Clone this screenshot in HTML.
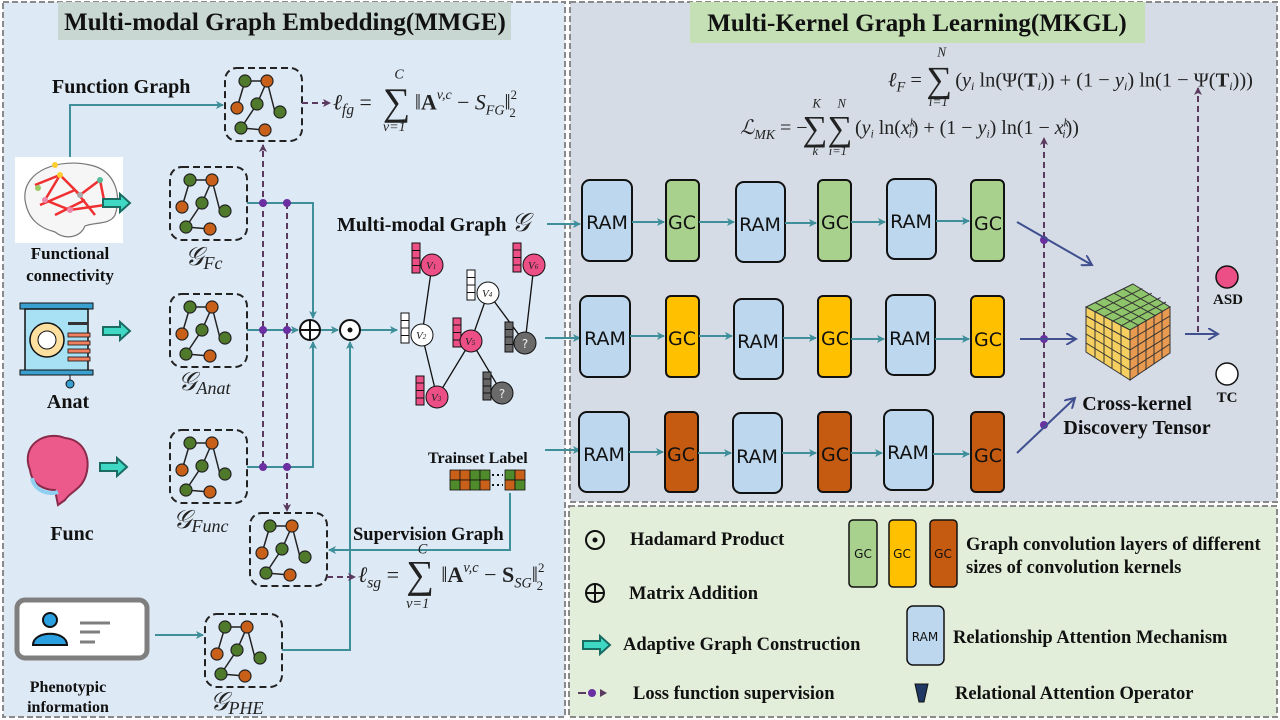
<!DOCTYPE html>
<html><head><meta charset="utf-8"><style>
body{margin:0;width:1280px;height:720px;overflow:hidden;background:#fff}
svg{display:block}
.b{font-family:"Liberation Serif",serif;font-weight:bold;fill:#111}
.m{font-family:"Liberation Serif",serif;fill:#222}
.s{font-family:"DejaVu Sans","Liberation Sans",sans-serif;fill:#111}
</style></head><body>
<svg width="1280" height="720" viewBox="0 0 1280 720" xmlns="http://www.w3.org/2000/svg">
<defs>
<marker id="at" markerWidth="8" markerHeight="8" refX="7" refY="4" orient="auto" markerUnits="userSpaceOnUse"><path d="M0,0 L8,4 L0,8 L2,4z" fill="#3f8f9a"/></marker>
<marker id="ap" markerWidth="8" markerHeight="8" refX="7" refY="4" orient="auto" markerUnits="userSpaceOnUse"><path d="M0,0 L8,4 L0,8 L2,4z" fill="#5a3a5e"/></marker>
<marker id="ab" markerWidth="12" markerHeight="12" refX="10" refY="6" orient="auto" markerUnits="userSpaceOnUse"><path d="M0,0 L10,6 L0,12" fill="none" stroke="#3f4f8f" stroke-width="2"/></marker>
<g id="gr">
<rect x="0" y="0" width="77" height="73" rx="12" fill="none" stroke="#222" stroke-width="2" stroke-dasharray="7,4"/>
<g stroke="#222" stroke-width="1.5">
<line x1="20" y1="13" x2="42" y2="13"/><line x1="42" y1="13" x2="50" y2="44"/><line x1="20" y1="13" x2="12" y2="40"/><line x1="42" y1="13" x2="32" y2="36"/><line x1="32" y1="36" x2="16" y2="60"/><line x1="16" y1="60" x2="40" y2="62"/>
</g>
<g stroke="#222" stroke-width="1.2">
<circle cx="20" cy="13" r="6" fill="#4f7a2b"/><circle cx="42" cy="13" r="6" fill="#c8601a"/><circle cx="12" cy="40" r="6" fill="#c8601a"/><circle cx="32" cy="36" r="6" fill="#4f7a2b"/><circle cx="55" cy="44" r="6" fill="#4f7a2b"/><circle cx="16" cy="60" r="6" fill="#4f7a2b"/><circle cx="40" cy="62" r="6" fill="#c8601a"/>
</g>
</g>
<g id="tarrow"><path d="M0,-4 H17 V-9 L27,0 L17,9 V4 H0z" fill="#3fd8c4" stroke="#1a6b62" stroke-width="2"/></g>
</defs>

<!-- panels -->
<rect x="3" y="2" width="562" height="715" fill="#dde9f5" stroke="#8a8a8a" stroke-width="2" stroke-dasharray="6,3"/>
<rect x="570" y="2" width="707" height="500" fill="#d5dce6" stroke="#8a8a8a" stroke-width="2" stroke-dasharray="6,3"/>
<rect x="569" y="506" width="708" height="211" fill="#e2eeda" stroke="#8a8a8a" stroke-width="2" stroke-dasharray="6,3"/>

<rect x="58" y="2" width="453" height="38" fill="#c9d7d2"/>
<text class="b" x="285" y="30" font-size="25" text-anchor="middle">Multi-modal Graph Embedding(MMGE)</text>
<rect x="690" y="2" width="455" height="41" fill="#c5e0b5"/>
<text class="b" x="917" y="31" font-size="25" text-anchor="middle">Multi-Kernel Graph Learning(MKGL)</text>

<!-- left images -->
<rect x="15" y="157" width="108" height="86" fill="#fff"/>
<path d="M25,200 C22,170 60,158 90,165 C115,170 122,195 115,215 C110,225 95,222 85,226 C80,238 65,240 55,232 C40,228 28,220 25,200z" fill="#f6f6f6" stroke="#777" stroke-width="1.2"/>
<g stroke="#f03030" stroke-width="2.5" fill="none"><path d="M35,185 L60,175 L80,195 L100,180 L105,205 L70,210 L45,200 L60,175 M40,205 L75,190 L95,215 M55,215 L85,200"/></g>
<g><circle cx="38" cy="188" r="3" fill="#9c6"/><circle cx="60" cy="175" r="3" fill="#fc3"/><circle cx="80" cy="195" r="3" fill="#aaa"/><circle cx="100" cy="180" r="3" fill="#5b9"/><circle cx="105" cy="205" r="3" fill="#89c"/><circle cx="70" cy="210" r="3" fill="#e8a"/><circle cx="45" cy="200" r="3" fill="#e8a"/><circle cx="55" cy="165" r="3" fill="#fc3"/></g>
<text class="b" x="70" y="259" font-size="17" text-anchor="middle">Functional</text>
<text class="b" x="70" y="281" font-size="17" text-anchor="middle">connectivity</text>

<rect x="20" y="303" width="73" height="6" fill="#3aa0d0" stroke="#111"/>
<rect x="25" y="309" width="63" height="62" fill="#a8e0f4" stroke="#111" stroke-width="1.5"/>
<rect x="20" y="370" width="73" height="5" fill="#3aa0d0" stroke="#111"/>
<circle cx="47" cy="340" r="17" fill="#fde0a0" stroke="#111" stroke-width="1.5"/><circle cx="47" cy="340" r="9" fill="#fff" stroke="#111"/>
<g fill="#f08060" stroke="#111" stroke-width="0.8"><rect x="68" y="333" width="22" height="4"/><rect x="68" y="341" width="22" height="4"/><rect x="68" y="349" width="22" height="4"/><rect x="68" y="357" width="22" height="4"/></g>
<rect x="68" y="322" width="20" height="3" fill="#333"/>
<line x1="70" y1="375" x2="70" y2="381" stroke="#111"/><circle cx="70" cy="384" r="4" fill="#3aa0d0" stroke="#111"/>
<text class="b" x="68" y="408" font-size="20" text-anchor="middle">Anat</text>

<path d="M30,470 C20,445 45,430 65,438 C85,440 92,460 85,478 C80,490 70,492 65,500 L58,505 L55,490 C45,490 32,485 30,470z" fill="#ec5a8c" stroke="#8a2a4a" stroke-width="2"/>
<path d="M32,478 C35,492 50,495 58,492" fill="none" stroke="#8fd0f0" stroke-width="4"/>
<text class="b" x="72" y="540" font-size="20" text-anchor="middle">Func</text>

<rect x="17" y="600" width="130" height="58" rx="8" fill="#fff" stroke="#7f7f7f" stroke-width="5"/>
<circle cx="50" cy="620" r="7" fill="#2aa0e0" stroke="#111" stroke-width="2"/><path d="M33,645 C33,630 67,630 67,645z" fill="#2aa0e0" stroke="#111" stroke-width="2"/>
<g stroke="#7f7f7f" stroke-width="3"><line x1="80" y1="623" x2="110" y2="623"/><line x1="80" y1="632" x2="100" y2="632"/><line x1="80" y1="642" x2="95" y2="642"/></g>
<text class="b" x="68" y="692" font-size="16" text-anchor="middle">Phenotypic</text>
<text class="b" x="68" y="712" font-size="16" text-anchor="middle">information</text>

<use href="#tarrow" x="103" y="203"/><use href="#tarrow" x="103" y="331"/><use href="#tarrow" x="100" y="467"/>

<!-- graphs -->
<use href="#gr" x="225" y="68"/>
<use href="#gr" x="170" y="167"/>
<use href="#gr" x="170" y="294"/>
<use href="#gr" x="170" y="430"/>
<use href="#gr" x="250" y="513"/>
<use href="#gr" x="205" y="614"/>
<text class="b" x="52" y="93" font-size="20">Function Graph</text>
<text class="m" x="185" y="265" font-size="26" font-style="italic">𝒢<tspan font-size="18" dy="4">Fc</tspan></text>
<text class="m" x="178" y="390" font-size="26" font-style="italic">𝒢<tspan font-size="18" dy="4">Anat</tspan></text>
<text class="m" x="173" y="528" font-size="26" font-style="italic">𝒢<tspan font-size="18" dy="4">Func</tspan></text>
<text class="m" x="210" y="710" font-size="26" font-style="italic">𝒢<tspan font-size="18" dy="4">PHE</tspan></text>

<!-- teal connectors -->
<g fill="none" stroke="#3f8f9a" stroke-width="2">
<path d="M70,157 V105 H223" marker-end="url(#at)"/>
<path d="M247,203 H313 V318" marker-end="url(#at)"/>
<path d="M247,330 H298" marker-end="url(#at)"/>
<path d="M247,467 H313 V342" marker-end="url(#at)"/>
<path d="M320,330 H338" marker-end="url(#at)"/>
<path d="M360,330 H397" marker-end="url(#at)"/>
<path d="M282,650 H350 V342" marker-end="url(#at)"/>
<path d="M155,635 H203" marker-end="url(#at)"/>
<path d="M510,493 V550 H329" marker-end="url(#at)"/>
<path d="M547,224 H580" marker-end="url(#at)"/>
<path d="M545,338 H580" marker-end="url(#at)"/>
<path d="M545,450 H580" marker-end="url(#at)"/>
</g>
<circle cx="310" cy="330" r="10" fill="#fff" stroke="#111" stroke-width="2"/><path d="M300,330 H320 M310,320 V340" stroke="#111" stroke-width="2"/>
<circle cx="350" cy="330" r="10" fill="#fff" stroke="#111" stroke-width="2"/><circle cx="350" cy="330" r="2.5" fill="#111"/>

<!-- purple dashed -->
<g fill="none" stroke="#5a3a5e" stroke-width="2" stroke-dasharray="6,4">
<path d="M263,467 V145" marker-end="url(#ap)"/>
<path d="M287,203 V511" marker-end="url(#ap)"/>
<path d="M302,103 H330" marker-end="url(#ap)"/>
<path d="M327,577 H355" marker-end="url(#ap)"/>
<path d="M1044,428 V138" marker-end="url(#ap)"/>
<path d="M1198,332 V88" marker-end="url(#ap)"/>
</g>
<g fill="#6a2fa0"><circle cx="263" cy="203" r="4"/><circle cx="287" cy="203" r="4"/><circle cx="263" cy="330" r="4"/><circle cx="287" cy="330" r="4"/><circle cx="263" cy="467" r="4"/><circle cx="287" cy="467" r="4"/><circle cx="1044" cy="240" r="4"/><circle cx="1044" cy="339" r="4"/><circle cx="1044" cy="425" r="4"/></g>

<!-- formulas left -->
<g transform="translate(333,103) scale(1.28) translate(-333,-103)">
<text class="m" x="333" y="108" font-size="17" font-style="italic">ℓ<tspan font-size="12" dy="4">fg</tspan><tspan dy="-4" font-style="normal"> = </tspan></text>
<text class="m" x="372" y="112" font-size="30">∑</text>
<text class="m" x="381" y="84" font-size="11" font-style="italic">C</text>
<text class="m" x="372" y="125" font-size="11" font-style="italic">v=1</text>
<text class="m" x="397" y="108" font-size="17">‖<tspan font-weight="bold">A</tspan><tspan font-size="11" dy="-8" font-style="italic">v,c</tspan><tspan dy="8"> − </tspan><tspan font-style="italic">S</tspan><tspan font-size="11" dy="4" font-style="italic">FG</tspan><tspan dy="-4">‖</tspan><tspan font-size="10" dy="-8">2</tspan><tspan font-size="10" dx="-6" dy="14">2</tspan></text>
</g>
<g transform="translate(358,577) scale(1.3) translate(-341,-578)">
<text class="m" x="341" y="582" font-size="17" font-style="italic">ℓ<tspan font-size="12" dy="4">sg</tspan><tspan dy="-4" font-style="normal"> = </tspan></text>
<text class="m" x="378" y="586" font-size="30">∑</text>
<text class="m" x="387" y="560" font-size="11" font-style="italic">C</text>
<text class="m" x="378" y="602" font-size="11" font-style="italic">v=1</text>
<text class="m" x="405" y="582" font-size="17">‖<tspan font-weight="bold">A</tspan><tspan font-size="11" dy="-8" font-style="italic">v,c</tspan><tspan dy="8"> − </tspan><tspan font-weight="bold">S</tspan><tspan font-size="11" dy="4" font-style="italic">SG</tspan><tspan dy="-4">‖</tspan><tspan font-size="10" dy="-8">2</tspan><tspan font-size="10" dx="-6" dy="14">2</tspan></text>
</g>

<text class="b" x="337" y="231" font-size="20">Multi-modal Graph <tspan class="m" font-size="26" font-style="italic" font-weight="normal">𝒢</tspan></text>

<!-- multi-modal nodes -->
<g stroke="#111" stroke-width="1.3">
<line x1="432" y1="265" x2="422" y2="335"/><line x1="422" y1="335" x2="437" y2="397"/><line x1="437" y1="397" x2="471" y2="341"/><line x1="471" y1="341" x2="488" y2="293"/><line x1="488" y1="293" x2="525" y2="343"/><line x1="534" y1="265" x2="525" y2="343"/><line x1="471" y1="341" x2="502" y2="393"/>
</g>
<g stroke="#111" stroke-width="1">
<g fill="#ec4f85"><rect x="412" y="243" width="8" height="30"/><rect x="416" y="376" width="8" height="29"/><rect x="453" y="318" width="8" height="29"/><rect x="513" y="243" width="8" height="29"/></g>
<g fill="#fff"><rect x="401" y="313" width="8" height="30"/><rect x="467" y="270" width="8" height="30"/></g>
<g fill="#666"><rect x="505" y="322" width="8" height="30"/><rect x="483" y="372" width="8" height="28"/></g>
<path d="M412,250.5H420M412,258H420M412,265.5H420 M416,383H424M416,390.5H424M416,398H424 M453,325H461M453,332.5H461M453,340H461 M513,250H521M513,257.5H521M513,265H521 M401,320.5H409M401,328H409M401,335.5H409 M467,277.5H475M467,285H475M467,292.5H475 M505,329.5H513M505,337H513M505,344.5H513 M483,379H491M483,386H491M483,393H491"/>
<circle cx="432" cy="265" r="11" fill="#ec4f85"/><circle cx="422" cy="335" r="11" fill="#fff"/><circle cx="437" cy="397" r="11" fill="#ec4f85"/><circle cx="488" cy="293" r="11" fill="#fff"/><circle cx="471" cy="341" r="11" fill="#ec4f85"/><circle cx="534" cy="265" r="11" fill="#ec4f85"/><circle cx="525" cy="343" r="11" fill="#6a6a6a"/><circle cx="502" cy="393" r="11" fill="#6a6a6a"/>
</g>
<g class="m" font-size="11" font-style="italic" fill="#333"><text x="426" y="269">V<tspan font-size="7">1</tspan></text><text x="416" y="339">V<tspan font-size="7">2</tspan></text><text x="431" y="401">V<tspan font-size="7">3</tspan></text><text x="482" y="297">V<tspan font-size="7">4</tspan></text><text x="465" y="345">V<tspan font-size="7">5</tspan></text><text x="528" y="269">V<tspan font-size="7">6</tspan></text></g>
<text class="s" x="525" y="348" font-size="12" text-anchor="middle" style="fill:#eee">?</text>
<text class="s" x="502" y="398" font-size="12" text-anchor="middle" style="fill:#eee">?</text>

<!-- trainset -->
<text class="b" x="428" y="463" font-size="16">Trainset Label</text>
<g stroke="#111" stroke-width="0.8">
<rect x="450" y="470" width="10" height="10" fill="#c8601a"/><rect x="460" y="470" width="10" height="10" fill="#c8601a"/><rect x="470" y="470" width="10" height="10" fill="#4f8a2b"/><rect x="480" y="470" width="10" height="10" fill="#4f8a2b"/>
<rect x="450" y="480" width="10" height="10" fill="#4f8a2b"/><rect x="460" y="480" width="10" height="10" fill="#c8601a"/><rect x="470" y="480" width="10" height="10" fill="#4f8a2b"/><rect x="480" y="480" width="10" height="10" fill="#c8601a"/>
<rect x="505" y="470" width="10" height="10" fill="#4f8a2b"/><rect x="515" y="470" width="10" height="10" fill="#c8601a"/><rect x="505" y="480" width="10" height="10" fill="#c8601a"/><rect x="515" y="480" width="10" height="10" fill="#4f8a2b"/>
</g>
<path d="M492,475H503M492,485H503" stroke="#111" stroke-width="2" stroke-dasharray="2,3"/>
<text class="b" x="353" y="540" font-size="18.5">Supervision Graph</text>

<!-- pipelines -->
<g stroke="#111" stroke-width="2">
<g fill="#bdd7ee">
<rect x="582" y="180" width="50" height="81" rx="8"/><rect x="736" y="182" width="49" height="80" rx="8"/><rect x="887" y="179" width="49" height="80" rx="8"/>
<rect x="580" y="296" width="50" height="81" rx="8"/><rect x="734" y="299" width="49" height="80" rx="8"/><rect x="886" y="295" width="49" height="80" rx="8"/>
<rect x="579" y="412" width="50" height="80" rx="8"/><rect x="733" y="413" width="49" height="80" rx="8"/><rect x="884" y="410" width="49" height="80" rx="8"/>
</g>
<g fill="#a9d18e"><rect x="666" y="180" width="33" height="81" rx="5"/><rect x="818" y="180" width="33" height="81" rx="5"/><rect x="971" y="180" width="33" height="81" rx="5"/></g>
<g fill="#ffc000"><rect x="666" y="296" width="33" height="81" rx="5"/><rect x="818" y="296" width="33" height="81" rx="5"/><rect x="971" y="296" width="33" height="81" rx="5"/></g>
<g fill="#c55a11"><rect x="665" y="412" width="33" height="80" rx="5"/><rect x="818" y="412" width="33" height="80" rx="5"/><rect x="971" y="412" width="33" height="80" rx="5"/></g>
</g>
<g class="s" font-size="19" text-anchor="middle">
<text x="607" y="229">RAM</text><text x="682" y="229">GC</text><text x="760" y="231">RAM</text><text x="835" y="229">GC</text><text x="911" y="228">RAM</text><text x="988" y="230">GC</text>
<text x="605" y="345">RAM</text><text x="682" y="345">GC</text><text x="758" y="348">RAM</text><text x="835" y="345">GC</text><text x="910" y="345">RAM</text><text x="988" y="346">GC</text>
<text x="604" y="461">RAM</text><text x="681" y="461">GC</text><text x="757" y="463">RAM</text><text x="835" y="461">GC</text><text x="908" y="459">RAM</text><text x="988" y="462">GC</text>
</g>
<g fill="none" stroke="#3f8f9a" stroke-width="2">
<path d="M632,222H664" marker-end="url(#at)"/><path d="M699,222H734" marker-end="url(#at)"/><path d="M785,223H816" marker-end="url(#at)"/><path d="M851,222H885" marker-end="url(#at)"/><path d="M936,221H969" marker-end="url(#at)"/>
<path d="M630,336H664" marker-end="url(#at)"/><path d="M699,336H732" marker-end="url(#at)"/><path d="M783,338H816" marker-end="url(#at)"/><path d="M851,339H884" marker-end="url(#at)"/><path d="M935,339H969" marker-end="url(#at)"/>
<path d="M629,452H663" marker-end="url(#at)"/><path d="M698,453H731" marker-end="url(#at)"/><path d="M782,453H816" marker-end="url(#at)"/><path d="M851,453H882" marker-end="url(#at)"/><path d="M933,454H969" marker-end="url(#at)"/>
</g>
<g fill="none" stroke="#3f4f8f" stroke-width="2">
<path d="M1017,222 L1092,265" marker-end="url(#ab)"/><path d="M1020,339 H1076" marker-end="url(#ab)"/><path d="M1017,453 L1075,398" marker-end="url(#ab)"/><path d="M1185,334 H1218" marker-end="url(#ab)"/>
</g>

<!-- cube -->
<path d="M1133,284 L1170,307 L1130,330 L1086,307z" fill="#8fc56a" stroke="#333"/>
<path d="M1086,307 L1130,330 L1130,380 L1086,352z" fill="#f5d060" stroke="#333"/>
<path d="M1130,330 L1170,307 L1170,353 L1130,380z" fill="#e89a50" stroke="#333"/>
<g stroke="#333" stroke-width="1" fill="none">
<path d="M1095,302.4L1139,325.6 M1104,297.8L1147,320.8 M1114,293.2L1156,316 M1123,288.6L1163,311.6 M1095.4,311.6L1142.4,288.6 M1104.8,316.2L1151.8,293.2 M1113.4,320.8L1160.6,297.6 M1122,325.4L1166,302"/>
<path d="M1095,311.6V357 M1104,316.2V362.6 M1112,320.8V368.4 M1121,325.4V374 M1086,316L1130,340 M1086,325L1130,350 M1086,334L1130,360 M1086,343L1130,370"/>
<path d="M1138,325.4V375 M1146,320.8V370 M1154,316.2V364 M1162,311.6V358 M1130,340L1170,316 M1130,350L1170,325 M1130,360L1170,335 M1130,370L1170,344"/>
</g>
<text class="b" x="1137" y="410" font-size="20" text-anchor="middle">Cross-kernel</text>
<text class="b" x="1137" y="434" font-size="20" text-anchor="middle">Discovery Tensor</text>
<circle cx="1227" cy="277" r="11" fill="#ec4f85" stroke="#111" stroke-width="1.5"/>
<text class="b" x="1228" y="304" font-size="15" text-anchor="middle">ASD</text>
<circle cx="1227" cy="374" r="11" fill="#fff" stroke="#111" stroke-width="1.5"/>
<text class="b" x="1227" y="402" font-size="15" text-anchor="middle">TC</text>

<!-- right formulas -->
<g transform="translate(888,83) scale(1.2) translate(-875,-85)">
<text class="m" x="875" y="88" font-size="17" font-style="italic">ℓ<tspan font-size="12" dy="4">F</tspan><tspan dy="-4" font-style="normal"> = </tspan></text>
<text class="m" x="907" y="92" font-size="30">∑</text>
<text class="m" x="916" y="63" font-size="11" font-style="italic">N</text>
<text class="m" x="909" y="104" font-size="11" font-style="italic">i=1</text>
<text class="m" x="931" y="88" font-size="17">(<tspan font-style="italic">y</tspan><tspan font-size="10" dy="3" font-style="italic">i</tspan><tspan dy="-3"> ln(Ψ(</tspan><tspan font-weight="bold">T</tspan><tspan font-size="10" dy="3" font-style="italic">i</tspan><tspan dy="-3">)) + (1 − </tspan><tspan font-style="italic">y</tspan><tspan font-size="10" dy="3" font-style="italic">i</tspan><tspan dy="-3">) ln(1 − Ψ(</tspan><tspan font-weight="bold">T</tspan><tspan font-size="10" dy="3" font-style="italic">i</tspan><tspan dy="-3">)))</tspan></text>
</g>
<g transform="translate(740,130) scale(1.25) translate(-740,-133)">
<text class="m" x="740" y="136" font-size="16" font-style="italic">ℒ<tspan font-size="11" dy="4">MK</tspan><tspan dy="-4" font-style="normal"> = −</tspan></text>
<text class="m" x="790" y="141" font-size="28">∑</text>
<text class="m" x="798" y="115" font-size="10" font-style="italic">K</text>
<text class="m" x="798" y="153" font-size="10" font-style="italic">k</text>
<text class="m" x="810" y="141" font-size="28">∑</text>
<text class="m" x="818" y="115" font-size="10" font-style="italic">N</text>
<text class="m" x="811" y="153" font-size="10" font-style="italic">i=1</text>
<text class="m" x="832" y="136" font-size="16">(<tspan font-style="italic">y</tspan><tspan font-size="9" dy="3" font-style="italic">i</tspan><tspan dy="-3"> ln(</tspan><tspan font-style="italic">x</tspan><tspan font-size="9" dy="-6" font-style="italic">k</tspan><tspan font-size="9" dx="-5" dy="9" font-style="italic">i</tspan><tspan dy="-3">) + (1 − </tspan><tspan font-style="italic">y</tspan><tspan font-size="9" dy="3" font-style="italic">i</tspan><tspan dy="-3">) ln(1 − </tspan><tspan font-style="italic">x</tspan><tspan font-size="9" dy="-6" font-style="italic">k</tspan><tspan font-size="9" dx="-5" dy="9" font-style="italic">i</tspan><tspan dy="-3">))</tspan></text>
</g>

<!-- legend -->
<circle cx="595" cy="540" r="9" fill="none" stroke="#111" stroke-width="2"/><circle cx="595" cy="540" r="2.5" fill="#111"/>
<text class="b" x="630" y="545" font-size="18.5">Hadamard Product</text>
<circle cx="595" cy="593" r="9" fill="none" stroke="#111" stroke-width="2"/><path d="M586,593H604M595,584V602" stroke="#111" stroke-width="2"/>
<text class="b" x="629" y="599" font-size="18.5">Matrix Addition</text>
<use href="#tarrow" x="583" y="645"/>
<text class="b" x="623" y="650" font-size="18.5">Adaptive Graph Construction</text>
<path d="M578,693H586" stroke="#5a3a5e" stroke-width="2"/><circle cx="592" cy="693" r="4" fill="#6a2fa0"/><path d="M600,689L607,693L600,697z" fill="#5a3a5e"/>
<text class="b" x="633" y="699" font-size="18.5">Loss function supervision</text>
<g stroke="#111" stroke-width="1.5">
<rect x="849" y="520" width="28" height="67" rx="4" fill="#a9d18e"/><rect x="889" y="520" width="27" height="67" rx="4" fill="#ffc000"/><rect x="930" y="520" width="27" height="67" rx="4" fill="#c55a11"/>
<rect x="907" y="606" width="37" height="59" rx="6" fill="#bdd7ee"/>
</g>
<g class="s" font-size="12" text-anchor="middle"><text x="863" y="558">GC</text><text x="902" y="558">GC</text><text x="943" y="558">GC</text><text x="925" y="641">RAM</text></g>
<text class="b" x="966" y="550" font-size="18.5">Graph convolution layers of different</text>
<text class="b" x="966" y="573" font-size="18.5">sizes of convolution kernels</text>
<text class="b" x="953" y="643" font-size="18.5">Relationship Attention Mechanism</text>
<path d="M915,684H928L924,702H919z" fill="#1f3864" stroke="#111"/>
<text class="b" x="955" y="699" font-size="18.5">Relational Attention Operator</text>
</svg>
</body></html>
